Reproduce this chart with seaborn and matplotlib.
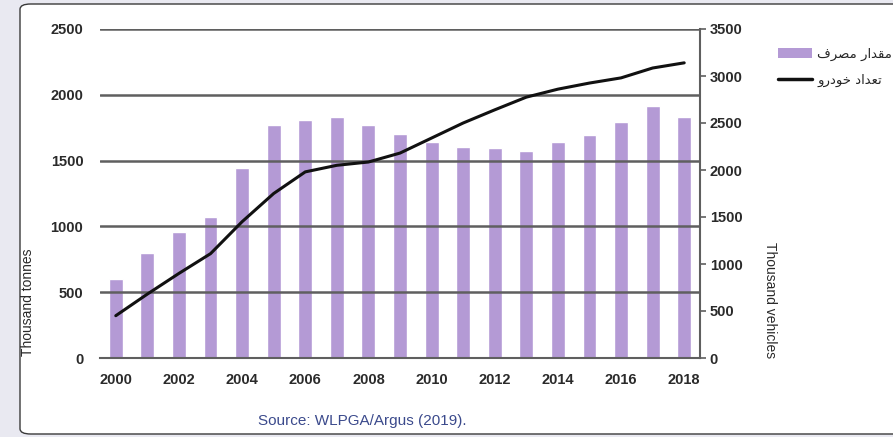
import numpy as np
import pandas as pd
import matplotlib
matplotlib.use("Agg")
import matplotlib.pyplot as plt
from matplotlib.patches import FancyBboxPatch, Patch
from matplotlib.lines import Line2D
import seaborn as sns

# Data
years = [str(y) for y in range(2000, 2019)]
lpg_use = [600, 800, 955, 1070, 1440, 1770, 1805, 1830, 1770, 1700,
           1640, 1605, 1598, 1575, 1645, 1695, 1790, 1915, 1835]      # thousand tonnes
vehicles = [450, 680, 900, 1110, 1450, 1750, 1980, 2050, 2085, 2180,
            2340, 2500, 2640, 2775, 2860, 2925, 2980, 3085, 3140]    # thousand vehicles
left_ticks = [0, 500, 1000, 1500, 2000, 2500]
right_ticks = [0, 500, 1000, 1500, 2000, 2500, 3000, 3500]
year_labels = [y if int(y) % 2 == 0 else "" for y in years]

# legend labels (Persian, in visual order with joined letter forms)
label_bars = "\ufed1\ufeae\ufebc\ufee3 \ufead\ufe8d\ufeaa\ufed8\ufee3"   # مقدار مصرف
label_line = "\ufeed\ufead\ufea9\ufeee\ufea7 \ufea9\ufe8d\ufeaa\ufecc\ufe97"  # تعداد خودرو

BAR_COLOR = "#b49ad5"
GRID_COLOR = "#5f5f5f"
TEXT_COLOR = "#2a2a2a"

sns.set_style("white")
plt.rcParams["font.family"] = ["Liberation Sans", "DejaVu Sans"]

df = pd.DataFrame({"year": years, "lpg": lpg_use, "veh": vehicles})

fig = plt.figure(figsize=(8.93, 4.37), dpi=100, facecolor="#e9e9f1")

# white rounded panel behind the chart
panel = FancyBboxPatch((20 / 893, 3 / 437), 900 / 893, 430 / 437,
                       boxstyle="round,pad=0,rounding_size=0.012",
                       transform=fig.transFigure, facecolor="white",
                       edgecolor="#3a3a3a", linewidth=1.0, zorder=-10)
fig.patches.append(panel)

ax = fig.add_axes([100 / 893, 79 / 437, 600 / 893, 329 / 437])
ax.set_facecolor("none")
sns.barplot(data=df, x="year", y="lpg", color=BAR_COLOR, width=0.44,
            saturation=1, ax=ax, zorder=1)
ax.set_xlim(-0.5, len(years) - 0.5)
ax.set_ylim(0, 2500)
ax.set_yticks(left_ticks)
ax.set_xticks(range(len(years)))
ax.set_xticklabels(year_labels)
ax.set_xticks(np.arange(-0.5, len(years), 1.0), minor=True)
ax.tick_params(axis="x", which="major", length=0, pad=11)
ax.tick_params(axis="x", which="minor", length=4, direction="out",
               color=GRID_COLOR, width=1.2)
ax.tick_params(axis="y", length=0, pad=12)
for lab in ax.get_xticklabels() + ax.get_yticklabels():
    lab.set_fontsize(10.5)
    lab.set_fontweight("bold")
    lab.set_color(TEXT_COLOR)
ax.set_xlabel("")
ax.set_ylabel("")
ax.set_axisbelow(False)
ax.yaxis.grid(True, color=GRID_COLOR, linewidth=1.8)
for side in ["left", "top", "right"]:
    ax.spines[side].set_visible(False)
ax.spines["bottom"].set_color(GRID_COLOR)
ax.spines["bottom"].set_linewidth(1.5)

ax2 = ax.twinx()
sns.lineplot(x=np.arange(len(years)), y=vehicles, color="#111111",
             linewidth=2.2, ax=ax2)
ax2.set_ylim(0, 3500)
ax2.set_yticks(right_ticks)
ax2.tick_params(axis="y", length=4, direction="out", color=GRID_COLOR,
                width=1.2, pad=3)
for lab in ax2.get_yticklabels():
    lab.set_fontsize(10.5)
    lab.set_fontweight("bold")
    lab.set_color(TEXT_COLOR)
for side in ["left", "top", "bottom"]:
    ax2.spines[side].set_visible(False)
ax2.spines["right"].set_color(GRID_COLOR)
ax2.spines["right"].set_linewidth(1.5)

fig.text(28 / 893, 1 - 302 / 437, "Thousand tonnes", rotation=90,
         ha="center", va="center", fontsize=10, color=TEXT_COLOR)
fig.text(770 / 893, 1 - 300 / 437, "Thousand vehicles", rotation=270,
         ha="center", va="center", fontsize=10, color=TEXT_COLOR)
fig.text(362 / 893, 1 - 421 / 437, "Source: WLPGA/Argus (2019).",
         ha="center", va="center", fontsize=11, color="#3b4a8c")

handles = [Patch(facecolor=BAR_COLOR, edgecolor="none"),
           Line2D([0], [0], color="#111111", linewidth=2.5)]
leg = fig.legend(handles, [label_bars, label_line], loc="upper left",
                 bbox_to_anchor=(766 / 893, 1 - 36 / 437), frameon=False,
                 handlelength=2.6, handleheight=0.8, handletextpad=0.4,
                 labelspacing=1.0, prop={"family": "DejaVu Sans", "size": 9.5})

fig.savefig("out.png", dpi=100, facecolor=fig.get_facecolor())
